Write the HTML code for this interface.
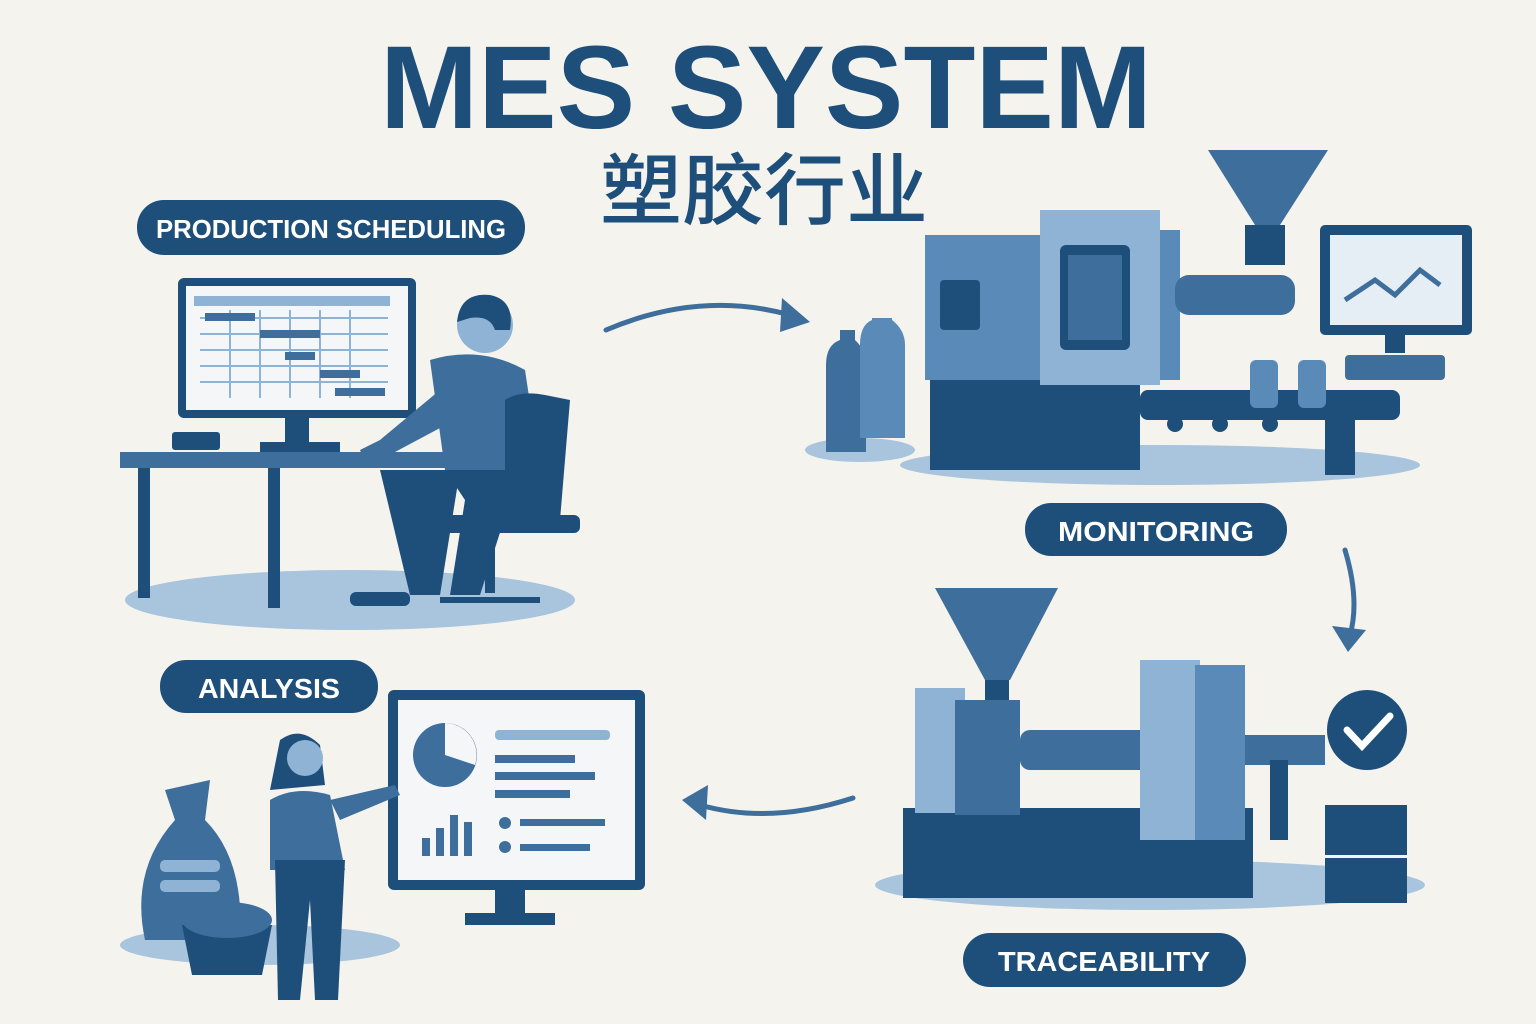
<!DOCTYPE html>
<html><head><meta charset="utf-8"><style>
html,body{margin:0;padding:0;background:#f4f3ee;}
svg{display:block}
text{font-family:"Liberation Sans","Noto Sans CJK SC",sans-serif}
</style></head><body>
<svg width="1536" height="1024" viewBox="0 0 1536 1024" xmlns="http://www.w3.org/2000/svg">
<rect width="1536" height="1024" fill="#f4f3ee"/>
<text x="766" y="128" font-size="118" font-weight="bold" fill="#1e4f7a" text-anchor="middle" textLength="772" lengthAdjust="spacingAndGlyphs">MES SYSTEM</text>
<text x="764" y="218" font-size="78" fill="#1e4f7a" text-anchor="middle" font-family="Noto Sans CJK SC, sans-serif" font-weight="500" textLength="328" lengthAdjust="spacingAndGlyphs">塑胶行业</text>

<g font-weight="bold" fill="#fff" text-anchor="middle">
<rect x="137" y="200" width="388" height="55" rx="27" fill="#1e4f7a"/>
<text x="331" y="238" font-size="26" fill="#fff" textLength="350" lengthAdjust="spacingAndGlyphs">PRODUCTION SCHEDULING</text>
<rect x="1025" y="503" width="262" height="53" rx="26" fill="#1e4f7a"/>
<text x="1156" y="541" font-size="28" fill="#fff" textLength="196" lengthAdjust="spacingAndGlyphs">MONITORING</text>
<rect x="160" y="660" width="218" height="53" rx="26" fill="#1e4f7a"/>
<text x="269" y="698" font-size="28" fill="#fff" textLength="142" lengthAdjust="spacingAndGlyphs">ANALYSIS</text>
<rect x="963" y="933" width="283" height="54" rx="27" fill="#1e4f7a"/>
<text x="1104" y="971" font-size="28" fill="#fff" textLength="212" lengthAdjust="spacingAndGlyphs">TRACEABILITY</text>
</g>

<g stroke="#3d6e9c" stroke-width="5" fill="none" stroke-linecap="round">
<path d="M606 330 Q700 290 790 315"/>
<path d="M1345 550 Q1360 600 1350 635"/>
<path d="M853 798 Q770 825 700 805"/>
</g>
<g fill="#3d6e9c">
<path d="M810 322 L782 298 L780 332 Z"/>
<path d="M1348 652 L1332 626 L1366 630 Z"/>
<path d="M682 800 L708 785 L706 820 Z"/>
</g>

<ellipse cx="350" cy="600" rx="225" ry="30" fill="#a9c4dd"/>
<rect x="120" y="452" width="330" height="16" fill="#3d6e9c"/>
<rect x="138" y="468" width="12" height="130" fill="#1e4f7a"/>
<rect x="268" y="468" width="12" height="140" fill="#1e4f7a"/>
<rect x="178" y="278" width="238" height="140" rx="6" fill="#1e4f7a"/>
<rect x="186" y="286" width="222" height="124" fill="#f4f6f8"/>
<rect x="194" y="296" width="196" height="10" fill="#8fb3d4"/>
<g stroke="#8fb3d4" stroke-width="2">
<line x1="200" y1="318" x2="388" y2="318"/><line x1="200" y1="334" x2="388" y2="334"/><line x1="200" y1="350" x2="388" y2="350"/><line x1="200" y1="366" x2="388" y2="366"/><line x1="200" y1="382" x2="388" y2="382"/>
<line x1="230" y1="310" x2="230" y2="398"/><line x1="260" y1="310" x2="260" y2="398"/><line x1="290" y1="310" x2="290" y2="398"/><line x1="320" y1="310" x2="320" y2="398"/><line x1="350" y1="310" x2="350" y2="398"/>
</g>
<rect x="205" y="313" width="50" height="8" fill="#3d6e9c"/><rect x="260" y="330" width="60" height="8" fill="#3d6e9c"/><rect x="285" y="352" width="30" height="8" fill="#3d6e9c"/><rect x="320" y="370" width="40" height="8" fill="#3d6e9c"/><rect x="335" y="388" width="50" height="8" fill="#3d6e9c"/>
<rect x="285" y="418" width="24" height="28" fill="#1e4f7a"/><rect x="260" y="442" width="80" height="10" fill="#1e4f7a"/>
<rect x="172" y="432" width="48" height="18" rx="3" fill="#1e4f7a"/>
<path d="M430 360 Q480 345 525 370 L540 470 L445 470 Z" fill="#3d6e9c"/>
<path d="M445 470 L520 470 L480 595 L450 595 L465 500 Z" fill="#1e4f7a"/>
<path d="M380 470 L460 470 L440 595 L410 595 Z" fill="#1e4f7a"/>
<rect x="350" y="592" width="60" height="14" rx="6" fill="#1e4f7a"/>
<path d="M440 390 L380 440 L360 450 L365 462 L395 452 L455 420 Z" fill="#3d6e9c"/>
<circle cx="485" cy="325" r="28" fill="#8fb3d4"/>
<path d="M457 322 Q460 292 490 295 Q515 300 510 330 L495 330 Q490 315 470 318 Z" fill="#1e4f7a"/>
<path d="M505 400 Q520 390 545 395 L570 400 L560 520 L505 525 Z" fill="#1e4f7a"/>
<rect x="420" y="515" width="160" height="18" rx="6" fill="#1e4f7a"/>
<rect x="485" y="533" width="10" height="60" fill="#1e4f7a"/>
<path d="M440 600 L540 600" stroke="#1e4f7a" stroke-width="6"/>

<ellipse cx="1160" cy="465" rx="260" ry="20" fill="#a9c4dd"/>
<ellipse cx="860" cy="450" rx="55" ry="12" fill="#a9c4dd"/>
<path d="M826 365 Q826 345 840 340 L840 330 L855 330 L855 340 Q866 350 866 365 L866 452 L826 452 Z" fill="#3d6e9c"/>
<path d="M860 345 Q860 325 872 320 L872 318 L892 318 L892 320 Q905 330 905 345 L905 438 L860 438 Z" fill="#5a8bb8"/>
<rect x="930" y="380" width="210" height="90" fill="#1e4f7a"/>
<rect x="925" y="235" width="120" height="145" fill="#5a8bb8"/>
<rect x="940" y="280" width="40" height="50" rx="4" fill="#1e4f7a"/>
<rect x="1040" y="210" width="120" height="175" fill="#8fb3d4"/>
<rect x="1060" y="245" width="70" height="105" rx="6" fill="#1e4f7a"/>
<rect x="1068" y="255" width="54" height="85" fill="#3d6e9c"/>
<rect x="1160" y="230" width="20" height="150" fill="#5a8bb8"/>
<rect x="1175" y="275" width="120" height="40" rx="14" fill="#3d6e9c"/>
<path d="M1208 150 L1328 150 L1280 225 L1255 225 Z" fill="#3d6e9c"/>
<rect x="1245" y="225" width="40" height="40" fill="#1e4f7a"/>
<rect x="1140" y="390" width="260" height="30" rx="8" fill="#1e4f7a"/>
<circle cx="1175" cy="424" r="8" fill="#1e4f7a"/><circle cx="1220" cy="424" r="8" fill="#1e4f7a"/><circle cx="1270" cy="424" r="8" fill="#1e4f7a"/>
<rect x="1325" y="410" width="30" height="65" fill="#1e4f7a"/>
<rect x="1250" y="360" width="28" height="48" rx="6" fill="#5a8bb8"/><rect x="1298" y="360" width="28" height="48" rx="6" fill="#5a8bb8"/>
<rect x="1320" y="225" width="152" height="110" rx="5" fill="#1e4f7a"/>
<rect x="1330" y="235" width="132" height="90" fill="#e6eef5"/>
<path d="M1345 300 L1375 280 L1395 295 L1420 270 L1440 285" stroke="#3d6e9c" stroke-width="5" fill="none"/>
<rect x="1385" y="335" width="20" height="18" fill="#1e4f7a"/><rect x="1345" y="355" width="100" height="25" rx="4" fill="#3d6e9c"/>

<ellipse cx="1150" cy="885" rx="275" ry="25" fill="#a9c4dd"/>
<rect x="903" y="808" width="350" height="90" fill="#1e4f7a"/>
<path d="M935 588 L1058 588 L1010 680 L985 680 Z" fill="#3d6e9c"/>
<rect x="985" y="680" width="24" height="30" fill="#1e4f7a"/>
<rect x="915" y="688" width="50" height="125" fill="#8fb3d4"/>
<rect x="955" y="700" width="65" height="115" fill="#3d6e9c"/>
<rect x="1020" y="730" width="130" height="40" rx="10" fill="#3d6e9c"/>
<rect x="1140" y="660" width="60" height="180" fill="#8fb3d4"/>
<rect x="1195" y="665" width="50" height="175" fill="#5a8bb8"/>
<rect x="1245" y="735" width="80" height="30" fill="#3d6e9c"/>
<rect x="1270" y="760" width="18" height="80" fill="#1e4f7a"/>
<circle cx="1367" cy="730" r="40" fill="#1e4f7a"/>
<path d="M1347 730 L1362 746 L1390 716" stroke="#fff" stroke-width="7" fill="none" stroke-linecap="round"/>
<rect x="1325" y="805" width="82" height="50" fill="#1e4f7a"/><rect x="1325" y="858" width="82" height="45" fill="#1e4f7a"/>

<ellipse cx="260" cy="945" rx="140" ry="20" fill="#a9c4dd"/>
<path d="M145 940 Q130 870 175 820 L165 790 L210 780 L205 820 Q245 860 240 940 Z" fill="#3d6e9c"/>
<rect x="160" y="860" width="60" height="12" rx="5" fill="#8fb3d4"/><rect x="160" y="880" width="60" height="12" rx="5" fill="#8fb3d4"/>
<path d="M182 925 L272 925 L262 975 L192 975 Z" fill="#1e4f7a"/>
<ellipse cx="227" cy="920" rx="45" ry="18" fill="#3d6e9c"/>
<rect x="388" y="690" width="257" height="200" rx="6" fill="#1e4f7a"/>
<rect x="398" y="700" width="237" height="180" fill="#f4f6f8"/>
<circle cx="445" cy="755" r="32" fill="#3d6e9c"/>
<path d="M445 755 L445 723 A32 32 0 0 1 475 765 Z" fill="#f4f6f8"/>
<rect x="495" y="730" width="115" height="10" rx="4" fill="#8fb3d4"/>
<rect x="495" y="755" width="80" height="8" fill="#3d6e9c"/><rect x="495" y="772" width="100" height="8" fill="#3d6e9c"/><rect x="495" y="790" width="75" height="8" fill="#3d6e9c"/>
<rect x="422" y="838" width="8" height="18" fill="#3d6e9c"/><rect x="436" y="828" width="8" height="28" fill="#3d6e9c"/><rect x="450" y="815" width="8" height="41" fill="#3d6e9c"/><rect x="464" y="822" width="8" height="34" fill="#3d6e9c"/>
<circle cx="505" cy="823" r="6" fill="#3d6e9c"/><circle cx="505" cy="847" r="6" fill="#3d6e9c"/>
<rect x="520" y="819" width="85" height="7" fill="#3d6e9c"/><rect x="520" y="844" width="70" height="7" fill="#3d6e9c"/>
<rect x="495" y="890" width="30" height="25" fill="#1e4f7a"/><rect x="465" y="913" width="90" height="12" fill="#1e4f7a"/>
<path d="M280 740 Q300 725 320 745 L325 785 L270 790 Z" fill="#1e4f7a"/>
<circle cx="305" cy="758" r="18" fill="#8fb3d4"/>
<path d="M270 800 Q295 785 330 795 L345 870 L270 870 Z" fill="#3d6e9c"/>
<path d="M330 800 L395 785 L400 795 L340 820 Z" fill="#3d6e9c"/>
<path d="M275 860 L345 860 L338 1000 L315 1000 L310 900 L300 1000 L278 1000 Z" fill="#1e4f7a"/>
</svg>
</body></html>
